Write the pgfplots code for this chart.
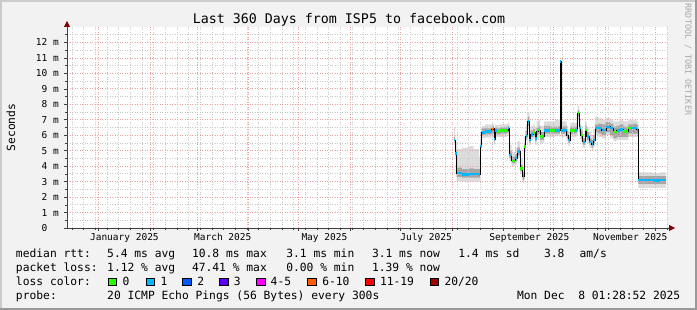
\documentclass[border=0pt]{standalone}
\usepackage{fontspec}
\setmainfont{DejaVu Sans Mono}
\setmonofont{DejaVu Sans Mono}
\usepackage{pgfplots}
\usepackage{pgfplotstable}
\pgfplotsset{compat=1.18}
\usepgfplotslibrary{fillbetween}
\usetikzlibrary{arrows.meta}

\definecolor{bg}{HTML}{F2F2F2}
\definecolor{shadea}{HTML}{CBCBCB}
\definecolor{shadeb}{HTML}{999999}
\definecolor{mgrid}{HTML}{EBA0A0}
\definecolor{mingrid}{HTML}{C8C8C8}
\definecolor{arrowc}{HTML}{7F0000}
\definecolor{axisc}{HTML}{404040}
\definecolor{smokeA}{HTML}{DCDCDC}
\definecolor{smokeB}{HTML}{A6A6A6}
\definecolor{lc0}{HTML}{26FF00}
\definecolor{lc1}{HTML}{00B8FF}
\definecolor{lc2}{HTML}{0059FF}
\definecolor{lc3}{HTML}{5E00FF}
\definecolor{lc4}{HTML}{FF00FF}
\definecolor{lc6}{HTML}{FF5E00}
\definecolor{lc11}{HTML}{FF0000}
\definecolor{lc20}{HTML}{A10000}

\newcommand\lf{\fontsize{11.3bp}{13bp}\selectfont}
\newcommand\tf{\fontsize{9.5bp}{11bp}\selectfont}
\newcommand\ttl{\fontsize{13.3bp}{15bp}\selectfont}

\pgfplotsset{
  layers/mylayers/.define layer set={canvas,axis background,axis grid,axis ticks,axis lines,axis tick labels,pre main,main,axis descriptions,axis foreground}{},
  set layers=mylayers,
}

% x = days since 1 Jan 2025; med/lo/hi in ms
\pgfplotstableread{
x     med   lo2  lo1  hi1  hi2
213.3 5.69  5.4  5.6  5.9  6.5
213.9 4.83  4.6  4.75 5.0  5.6
214.9 3.54  3.05 3.3  3.9  5.1
218.0 3.47  3.0  3.25 3.8  5.2
222.0 3.50  3.0  3.25 3.85 5.3
225.0 3.50  3.0  3.25 3.8  5.1
228.4 3.47  3.0  3.25 3.8  4.6
229.0 5.30  5.0  5.2  5.5  5.7
229.9 6.17  5.8  6.0  6.45 6.6
232.0 6.23  5.85 6.05 6.45 6.7
235.9 6.38  5.9  6.1  6.55 6.7
236.9 6.45  5.9  6.1  6.6  6.8
237.3 5.76  5.4  5.6  6.0  6.3
237.9 6.30  5.9  6.1  6.5  6.7
238.9 6.23  5.9  6.05 6.45 6.65
240.9 6.30  5.9  6.1  6.5  6.7
242.9 6.30  5.9  6.1  6.5  6.7
244.9 6.34  5.95 6.15 6.55 6.75
245.9 6.45  6.0  6.2  6.6  6.85
246.5 4.72  4.3  4.5  5.0  5.4
247.9 4.35  4.0  4.2  4.6  4.9
249.9 4.51  4.1  4.3  4.8  5.2
251.3 4.94  4.5  4.7  5.2  5.6
252.9 3.86  3.5  3.7  4.1  4.5
254.5 3.32  2.9  3.1  3.6  4.0
255.5 5.26  4.9  5.1  5.5  5.9
256.3 5.95  5.6  5.8  6.3  6.7
257.5 6.88  6.4  6.6  7.2  7.5
258.5 5.69  5.3  5.5  6.0  6.4
259.3 6.06  5.7  5.9  6.3  6.6
260.9 6.17  5.8  6.0  6.4  6.7
261.9 5.80  5.4  5.6  6.1  6.5
262.9 6.23  5.8  6.0  6.5  6.9
263.9 6.34  5.9  6.1  6.6  7.0
264.9 5.91  5.5  5.7  6.2  6.6
266.5 5.91  5.5  5.7  6.2  6.6
267.3 6.30  5.9  6.1  6.6  6.9
270.9 6.30  5.9  6.1  6.55 6.9
273.9 6.30  5.95 6.1  6.55 7.0
276.5 6.30  5.9  6.1  6.6  7.05
276.9 10.76 10.4 10.6 10.8 10.85
277.5 6.30  5.9  6.1  6.55 6.9
279.9 6.34  5.95 6.15 6.6  6.9
280.9 6.02  5.6  5.8  6.3  6.6
281.9 5.69  5.3  5.5  5.9  6.2
282.9 6.30  5.9  6.1  6.55 6.8
285.9 6.30  5.9  6.1  6.55 6.8
286.9 6.34  6.0  6.2  6.7  7.3
287.5 7.42  7.0  7.2  7.6  7.9
288.5 6.45  6.0  6.2  6.7  7.0
289.3 6.02  5.6  5.8  6.3  6.6
290.5 5.58  5.2  5.4  5.8  6.1
291.9 6.34  5.9  6.1  6.6  6.9
292.9 5.91  5.5  5.7  6.2  6.5
294.5 5.58  5.2  5.4  5.8  6.2
295.9 5.43  5.0  5.2  5.7  6.0
296.9 5.69  5.3  5.5  6.0  6.4
297.9 6.45  6.0  6.2  6.7  7.2
299.9 6.45  5.9  6.1  6.75 7.1
301.9 6.34  5.8  6.0  6.7  7.0
304.5 6.55  6.0  6.2  6.85 7.1
306.9 6.45  5.8  6.0  6.75 7.0
308.9 6.19  5.6  5.8  6.55 6.9
310.9 6.30  5.7  5.9  6.6  6.9
312.6 6.38  5.7  5.9  6.7  8.9
312.9 6.38  5.7  5.9  6.7  7.0
314.9 6.23  5.7  5.9  6.55 6.9
317.9 6.45  5.9  6.1  6.7  7.0
320.9 6.48  5.9  6.1  6.75 7.0
322.9 6.38  5.9  6.1  6.65 6.9
323.9 3.10  2.6  2.85 3.35 3.6
328.9 3.10  2.6  2.85 3.35 3.6
332.9 3.07  2.6  2.85 3.35 3.55
336.9 3.10  2.6  2.85 3.35 3.6
340.5 3.10  2.6  2.85 3.35 3.6
}\smoke

\begin{document}
\begin{tikzpicture}
\begin{axis}[
  at={(67bp,82bp)}, anchor=south west,
  scale only axis, width=600bp, height=201bp,
  xmin=-18.94, xmax=341.06, ymin=0, ymax=13,
  axis x line*=bottom, axis y line*=left,
  x axis line style={axisc, line width=0.8bp, -{Triangle[length=6bp,width=6bp,color=arrowc]}, shorten >=-8bp},
  y axis line style={axisc, line width=0.8bp, -{Triangle[length=6bp,width=6bp,color=arrowc]}, shorten >=-6bp},
  xtick={0,31,59,90,120,151,181,212,243,273,304,334},
  xticklabels={,,,,,,,,,,,},
  minor xtick={-16,-9,...,338},
  extra x ticks={15.5,74.5,135.5,196.5,258.5,319},
  extra x tick labels={January 2025,March 2025,May 2025,July 2025,September 2025,November 2025},
  extra x tick style={grid=none, major tick length=0pt,
    xticklabel style={anchor=base, inner sep=0pt, yshift=-13bp}},
  ytick={0,1,...,12},
  yticklabels={0\hphantom{\ m},1 m,2 m,3 m,4 m,5 m,6 m,7 m,8 m,9 m,10 m,11 m,12 m},
  minor ytick={0.5,1.5,...,12.5},
  grid=both,
  major grid style={mgrid, line width=0.8bp, dash pattern=on 1bp off 1.5bp},
  minor grid style={mingrid, line width=0.8bp, dash pattern=on 1bp off 1.5bp},
  tick align=outside,
  major tick length=3bp, minor tick length=2bp,
  tick style={axisc, line width=0.6bp},
  ticklabel style={font=\tf},
  yticklabel style={anchor=east, inner sep=0pt, xshift=-5bp},
  /pgf/number format/assume math mode=true,
]
\begin{pgfonlayer}{canvas}
  \fill[bg] ([shift={(-67bp,-82bp)}]rel axis cs:0,0) rectangle ++(697bp,310bp);
  \fill[shadea] ([shift={(-67bp,-82bp)}]rel axis cs:0,0) rectangle ++(2bp,310bp);
  \fill[shadea] ([shift={(-67bp,226bp)}]rel axis cs:0,0) rectangle ++(697bp,2bp);
  \fill[shadeb] ([shift={(628bp,-82bp)}]rel axis cs:0,0) rectangle ++(2bp,310bp);
  \fill[shadeb] ([shift={(-67bp,-82bp)}]rel axis cs:0,0) rectangle ++(697bp,2bp);
  \fill[white] (rel axis cs:0,0) rectangle (rel axis cs:1,1);
\end{pgfonlayer}
\addplot[draw=none, const plot, name path=hiB] table[x=x,y=hi2]{\smoke};
\addplot[draw=none, const plot, name path=loB] table[x=x,y=lo2]{\smoke};
\addplot[smokeA] fill between[of=hiB and loB];
\addplot[draw=none, const plot, name path=hiA] table[x=x,y=hi1]{\smoke};
\addplot[draw=none, const plot, name path=loA] table[x=x,y=lo1]{\smoke};
\addplot[smokeB] fill between[of=hiA and loA];
\addplot[black, line width=0.8bp, const plot] table[x=x,y=med]{\smoke};
\addplot[lc1, line width=2.4bp, jump mark left] table[x=x,y=med]{\smoke};
\addplot[lc0, line width=2.4bp, unbounded coords=jump] coordinates {
 (238.9,6.23) (240.9,6.23) (240.9,nan)
 (240.9,6.30) (244.9,6.30) (244.9,nan)
 (247.9,4.35) (249.9,4.35) (249.9,nan)
 (252.9,3.86) (254.5,3.86) (254.5,nan)
 (255.5,5.26) (256.3,5.26) (256.3,nan)
 (260.9,6.17) (261.9,6.17) (261.9,nan)
 (263.9,6.34) (264.9,6.34) (264.9,nan)
 (264.9,5.91) (266.5,5.91) (266.5,nan)
 (270.9,6.30) (273.9,6.30) (273.9,nan)
 (282.9,6.30) (285.9,6.30) (285.9,nan)
 (287.5,7.42) (288.5,7.42) (288.5,nan)
 (289.3,6.02) (290.5,6.02) (290.5,nan)
 (291.9,6.34) (292.9,6.34) (292.9,nan)
 (308.9,6.19) (310.9,6.19) (310.9,nan)
 (314.9,6.23) (317.9,6.23) (317.9,nan)
 (317.9,6.45) (319.5,6.45)
};
\addplot[lc6, line width=2.4bp] coordinates {(235.9,6.38) (236.9,6.38)};
\end{axis}

% title, y label, watermark
\node[anchor=base, inner sep=0pt, font=\ttl] at (349bp,286.7bp) {Last 360 Days from ISP5 to facebook.com};
\node[rotate=90, font=\lf, inner sep=0pt] at (11bp,182.5bp) {Seconds};
\node[rotate=-90, font=\fontsize{8.4bp}{9bp}\selectfont, text=black!35, inner sep=0pt] at (688bp,250.5bp) {RRDTOOL / TOBI OETIKER};

% legend
\begin{scope}[every node/.style={anchor=base west, inner sep=0pt, font=\lf}]
\node at (15.8bp,52.4bp) {median rtt:};
\node at (107bp,52.4bp) {5.4 ms avg};
\node at (191.8bp,52.4bp) {10.8 ms max};
\node at (286.1bp,52.4bp) {3.1 ms min};
\node at (371.8bp,52.4bp) {3.1 ms now};
\node at (458.1bp,52.4bp) {1.4 ms sd};
\node at (543.8bp,52.4bp) {3.8};
\node at (579.4bp,52.4bp) {am/s};

\node at (15.8bp,38.5bp) {packet loss:};
\node at (107bp,38.5bp) {1.12 \% avg};
\node at (191.8bp,38.5bp) {47.41 \% max};
\node at (286.1bp,38.5bp) {0.00 \% min};
\node at (371.8bp,38.5bp) {1.39 \% now};

\node at (15.8bp,24.6bp) {loss color:};
\node at (122.4bp,24.6bp) {0};
\node at (160.3bp,24.6bp) {1};
\node at (197.2bp,24.6bp) {2};
\node at (233.6bp,24.6bp) {3};
\node at (270.5bp,24.6bp) {4-5};
\node at (322.1bp,24.6bp) {6-10};
\node at (379.8bp,24.6bp) {11-19};
\node at (444.3bp,24.6bp) {20/20};

\node at (15.8bp,10.7bp) {probe:};
\node at (107bp,10.7bp) {20 ICMP Echo Pings (56 Bytes) every 300s};
\node[anchor=base east] at (680.5bp,10.7bp) {Mon Dec~~8 01:28:52 2025};
\end{scope}
\begin{scope}[line width=0.6bp]
\filldraw[fill=lc0, draw=black] (108bp,24.5bp) rectangle (116.4bp,32.1bp);
\filldraw[fill=lc1, draw=black] (145.8bp,24.5bp) rectangle (154.2bp,32.1bp);
\filldraw[fill=lc2, draw=black] (182.7bp,24.5bp) rectangle (191.1bp,32.1bp);
\filldraw[fill=lc3, draw=black] (219.6bp,24.5bp) rectangle (228bp,32.1bp);
\filldraw[fill=lc4, draw=black] (256.4bp,24.5bp) rectangle (264.9bp,32.1bp);
\filldraw[fill=lc6, draw=black] (307.6bp,24.5bp) rectangle (316bp,32.1bp);
\filldraw[fill=lc11, draw=black] (365.3bp,24.5bp) rectangle (373.8bp,32.1bp);
\filldraw[fill=lc20, draw=black] (429.8bp,24.5bp) rectangle (438.2bp,32.1bp);
\end{scope}

\pgfresetboundingbox
\path[use as bounding box] (0,0) rectangle (697bp,310bp);
\end{tikzpicture}
\end{document}
